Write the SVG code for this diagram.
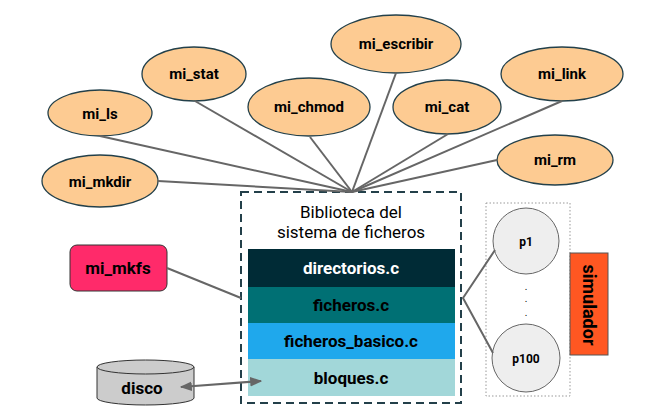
<svg xmlns="http://www.w3.org/2000/svg" width="648" height="409" viewBox="0 0 648 409">
<style>
.e{fill:#fdcb92;stroke:#23404a;stroke-width:1.3}
.t{font-family:Roboto,"Liberation Sans",sans-serif;font-weight:bold;font-size:15px;fill:#000;text-anchor:middle;dominant-baseline:central}
.c{stroke:#666;stroke-width:2;fill:none}
.l{font-family:Roboto,"Liberation Sans",sans-serif;font-weight:bold;font-size:17px;text-anchor:middle;dominant-baseline:central}
.p{font-family:Roboto,"Liberation Sans",sans-serif;font-weight:bold;font-size:12px;text-anchor:middle;dominant-baseline:central}
</style>
<defs>
<marker id="ah" viewBox="0 0 10 10" refX="9" refY="5" markerWidth="6" markerHeight="6" orient="auto-start-reverse"><path d="M0,1 L10,5 L0,9 z" fill="#666"/></marker>
</defs>
<rect width="648" height="409" fill="#fff"/>
<g id="mi_stat"><ellipse class="e" cx="194" cy="74" rx="52" ry="27"/><text class="t" x="194" y="74">mi_stat</text></g>
<g id="mi_ls"><ellipse class="e" cx="100" cy="113" rx="52" ry="23"/><text class="t" x="100" y="114">mi_ls</text></g>
<g id="mi_mkdir"><ellipse class="e" cx="100" cy="181" rx="58" ry="26"/><text class="t" x="100" y="182">mi_mkdir</text></g>
<g id="mi_chmod"><ellipse class="e" cx="309" cy="107" rx="61" ry="29"/><text class="t" x="309" y="107">mi_chmod</text></g>
<g id="mi_escribir"><ellipse class="e" cx="396" cy="44" rx="65" ry="29"/><text class="t" x="396" y="44">mi_escribir</text></g>
<g id="mi_cat"><ellipse class="e" cx="447" cy="107" rx="54" ry="27"/><text class="t" x="447" y="107">mi_cat</text></g>
<g id="mi_link"><ellipse class="e" cx="562" cy="74" rx="61" ry="27"/><text class="t" x="562" y="74">mi_link</text></g>
<g id="mi_rm"><ellipse class="e" cx="555" cy="160" rx="58" ry="25"/><text class="t" x="555" y="160">mi_rm</text></g>
<g id="biblioteca">
<rect x="241" y="192" width="220" height="211" fill="#fff" stroke="#23404a" stroke-width="2" stroke-dasharray="8,5"/>
<text x="351" y="218" font-family="Roboto,'Liberation Sans',sans-serif" font-size="17" text-anchor="middle" fill="#000">Biblioteca del</text>
<text x="351" y="238" font-family="Roboto,'Liberation Sans',sans-serif" font-size="17" text-anchor="middle" fill="#000">sistema de ficheros</text>
</g>
<g id="directorios"><rect x="248" y="249" width="207" height="38" fill="#002b36"/><text class="l" x="351" y="268" fill="#fff">directorios.c</text></g>
<g id="ficheros"><rect x="248" y="287" width="207" height="36" fill="#007074"/><text class="l" x="351" y="305" fill="#000">ficheros.c</text></g>
<g id="ficheros_basico"><rect x="248" y="323" width="207" height="36" fill="#1fa8ec"/><text class="l" x="351" y="341" fill="#000">ficheros_basico.c</text></g>
<g id="bloques"><rect x="248" y="359" width="207" height="37" fill="#a2d7d9"/><text class="l" x="351" y="378" fill="#000">bloques.c</text></g>
<g id="mi_mkfs"><rect x="70" y="245" width="97" height="46" rx="7" fill="#ff2a6a" stroke="#333" stroke-width="1"/><text class="l" x="118" y="268" fill="#000">mi_mkfs</text></g>
<g id="disco">
<path d="M97,367 L97,398 A48.5,7 0 0 0 194,398 L194,367" fill="#cccccc" stroke="#333" stroke-width="1"/>
<ellipse cx="145.5" cy="367" rx="48.5" ry="7" fill="#cccccc" stroke="#333" stroke-width="1"/>
<text class="l" x="142" y="388" fill="#000">disco</text>
</g>
<g id="procesos">
<rect x="486" y="203" width="84" height="193" fill="none" stroke="#999" stroke-width="1" stroke-dasharray="1.5,2"/>
<circle cx="526" cy="241" r="33" fill="#eeeeee" stroke="#666" stroke-width="1"/>
<text class="p" x="526" y="242">p1</text>
<circle cx="526" cy="358" r="34" fill="#eeeeee" stroke="#666" stroke-width="1"/>
<text class="p" x="526" y="359">p100</text>
<text x="526" y="290" font-family="Roboto,'Liberation Sans',sans-serif" font-size="10" text-anchor="middle">.</text>
<text x="526" y="302" font-family="Roboto,'Liberation Sans',sans-serif" font-size="10" text-anchor="middle">.</text>
<text x="526" y="316" font-family="Roboto,'Liberation Sans',sans-serif" font-size="10" text-anchor="middle">.</text>
</g>
<g id="simulador"><rect x="570" y="253" width="38" height="102" fill="#ff5722" stroke="#555" stroke-width="1"/><text class="l" x="589" y="305" fill="#000" style="font-size:18px" transform="rotate(90 589 305)">simulador</text></g>
<g id="connectors">
<line class="c" x1="195" y1="101" x2="352" y2="192"/>
<line class="c" x1="100" y1="136" x2="352" y2="192"/>
<line class="c" x1="158" y1="181" x2="352" y2="192"/>
<line class="c" x1="310" y1="137" x2="352" y2="192"/>
<line class="c" x1="396" y1="73" x2="352" y2="192"/>
<line class="c" x1="448" y1="134" x2="352" y2="192"/>
<line class="c" x1="562" y1="101" x2="352" y2="192"/>
<line class="c" x1="497" y1="160" x2="352" y2="192"/>
<line class="c" x1="167" y1="268" x2="241" y2="298"/>
<polyline class="c" points="495,250 463,298 493,353"/>
<line class="c" x1="181" y1="387" x2="261" y2="381" marker-start="url(#ah)" marker-end="url(#ah)"/>
</g>
</svg>
